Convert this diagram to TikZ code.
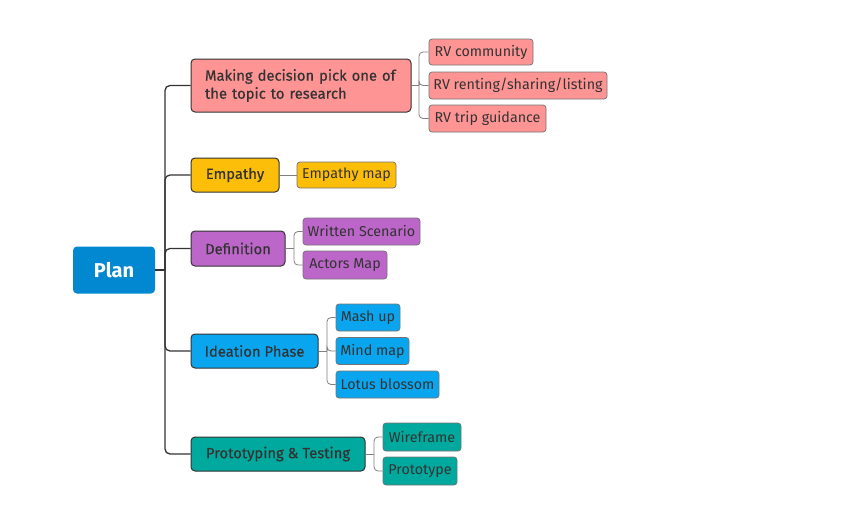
\documentclass[tikz,border=0pt]{standalone}
\usepackage{fontspec}
\setmainfont{Fira Sans}
\newfontfamily\medfont[FakeBold=0.5]{Fira Sans}
\begin{document}
\begin{tikzpicture}[x=1pt,y=-1pt,
  mainbox/.style={draw=black!80, line width=1pt, rounded corners=4pt, font=\fontsize{14.8}{18}\medfont, text=black!80, inner sep=0pt},
  subbox/.style={draw=black!55, line width=0.7pt, rounded corners=3pt, font=\fontsize{14.3}{16}\selectfont, text=black!80, inner sep=0pt},
  mainline/.style={draw=black!80, line width=1.3pt, rounded corners=5pt},
  subline/.style={draw=black!50, line width=0.8pt, rounded corners=4pt}]
\definecolor{cpink}{HTML}{FF9494}
\definecolor{cyellow}{HTML}{FDBE0A}
\definecolor{cpurple}{HTML}{BB66C8}
\definecolor{cblue}{HTML}{0AA5EF}
\definecolor{cteal}{HTML}{00A99D}
\definecolor{cplan}{HTML}{0288D1}
\useasboundingbox (0,0) rectangle (845,506);
% root
\node[fill=cplan, rounded corners=4pt, minimum width=82pt, minimum height=47pt, inner sep=0pt, text=white, font=\fontsize{20}{24}\selectfont\bfseries] (plan) at (114,270) {Plan};
% main nodes
\node[mainbox, fill=cpink, minimum width=220pt, minimum height=53pt, text width=192pt, align=left] (m1) at (301,85.5) {Making decision pick one of\\the topic to research};
\node[mainbox, fill=cyellow, minimum width=88pt, minimum height=34pt] (m2) at (235,175) {Empathy};
\node[mainbox, fill=cpurple, minimum width=94pt, minimum height=35pt] (m3) at (238,248.5) {Definition};
\node[mainbox, fill=cblue, minimum width=127pt, minimum height=34pt] (m4) at (254.5,351) {Ideation Phase};
\node[mainbox, fill=cteal, minimum width=174pt, minimum height=34pt] (m5) at (278,454) {Prototyping \& Testing};
% sub nodes
\node[subbox, fill=cpink, minimum width=104pt, minimum height=26pt] (s11) at (481,52) {RV community};
\node[subbox, fill=cpink, minimum width=178pt, minimum height=27pt] (s12) at (518,85.5) {RV renting/sharing/listing};
\node[subbox, fill=cpink, minimum width=117pt, minimum height=27pt] (s13) at (487.5,118.5) {RV trip guidance};
\node[subbox, fill=cyellow, minimum width=99pt, minimum height=26pt] (s21) at (346.5,175) {Empathy map};
\node[subbox, fill=cpurple, minimum width=117pt, minimum height=27pt] (s31) at (361.5,231.5) {Written Scenario};
\node[subbox, fill=cpurple, minimum width=84pt, minimum height=28pt] (s32) at (345,265) {Actors Map};
\node[subbox, fill=cblue, minimum width=64pt, minimum height=27pt] (s41) at (368,317.5) {Mash up};
\node[subbox, fill=cblue, minimum width=73pt, minimum height=27pt] (s42) at (372.5,351) {Mind map};
\node[subbox, fill=cblue, minimum width=103pt, minimum height=27pt] (s43) at (387.5,384.5) {Lotus blossom};
\node[subbox, fill=cteal, minimum width=78pt, minimum height=28pt] (s51) at (422,437) {Wireframe};
\node[subbox, fill=cteal, minimum width=74pt, minimum height=28pt] (s52) at (420,471) {Prototype};
% junctions
\coordinate (j0) at (165,270);
\coordinate (j1) at (419,85.5);
\coordinate (j3) at (294,248.5);
\coordinate (j4) at (327,351);
\coordinate (j5) at (374,454);
% main connectors
\draw[mainline] (plan.east) -- (j0);
\foreach \m in {m1,m2,m3,m4,m5} \draw[mainline] (j0) |- (\m.west);
% sub connectors
\draw[subline] (m1.east) -- (j1);
\foreach \s in {s11,s12,s13} \draw[subline] (j1) |- (\s.west);
\draw[subline] (m2.east) -- (s21.west);
\draw[subline] (m3.east) -- (j3);
\foreach \s in {s31,s32} \draw[subline] (j3) |- (\s.west);
\draw[subline] (m4.east) -- (j4);
\foreach \s in {s41,s42,s43} \draw[subline] (j4) |- (\s.west);
\draw[subline] (m5.east) -- (j5);
\foreach \s in {s51,s52} \draw[subline] (j5) |- (\s.west);
\end{tikzpicture}
\end{document}
